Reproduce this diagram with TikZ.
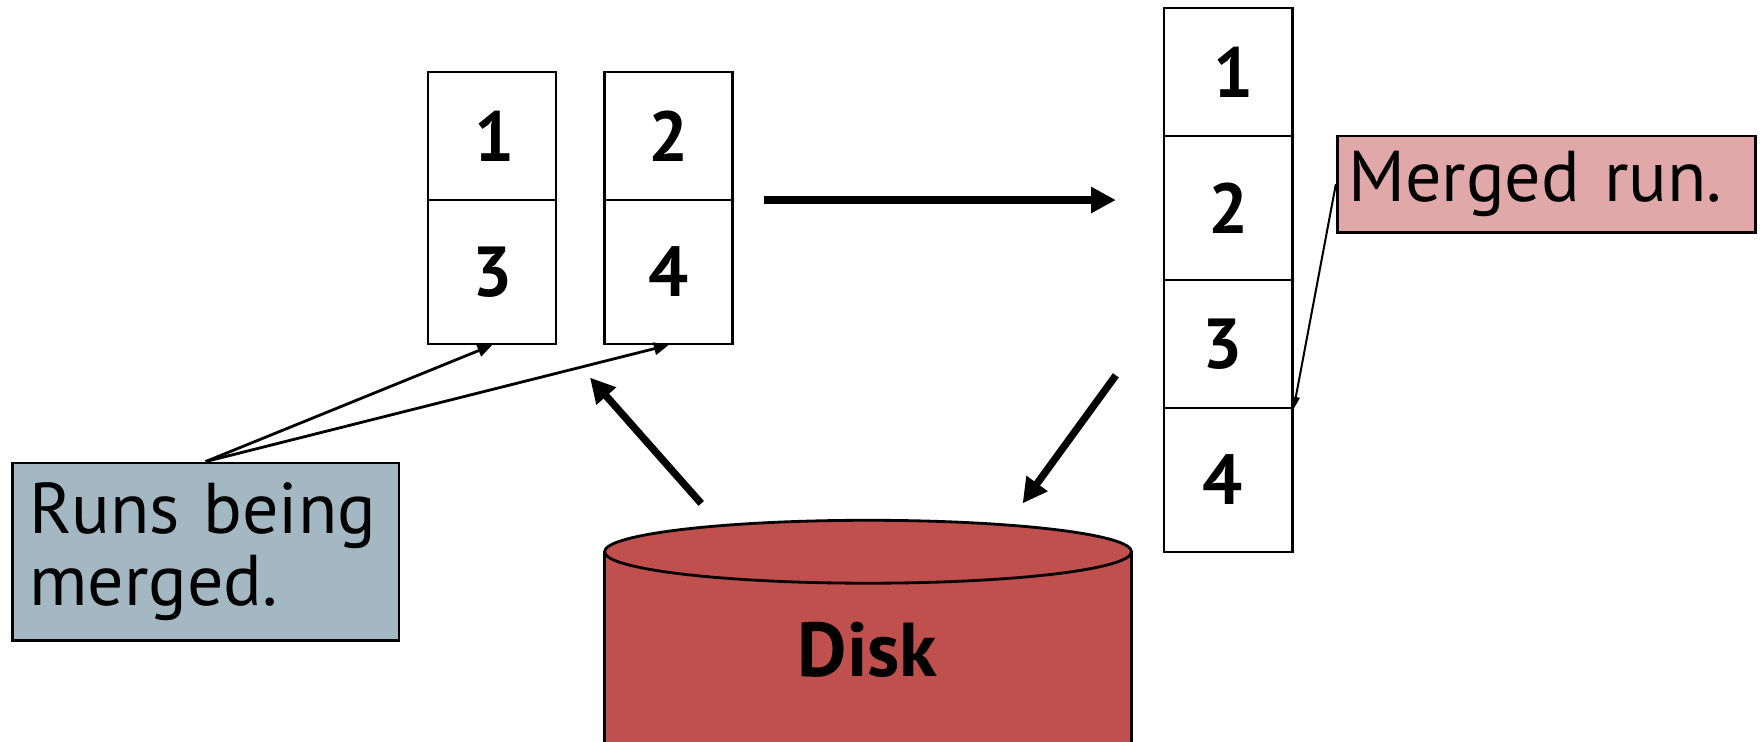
\documentclass[tikz,border=0pt]{standalone}
\usepackage{fontspec}
\setmainfont{PT Sans}
\usetikzlibrary{arrows.meta}
\definecolor{diskred}{HTML}{C0504D}
\definecolor{pinkbox}{HTML}{E0A8A8}
\definecolor{bluebox}{HTML}{A3B8C3}
\begin{document}
\begin{tikzpicture}[x=1pt,y=-1pt,
  cell/.style={draw,line width=2.2pt,minimum width=114pt,inner sep=0pt,font=\fontsize{63}{66}\selectfont\bfseries},
  tall/.style={cell,minimum height=128pt},
  short/.style={cell,minimum height=114pt},
  callout/.style={draw,line width=2.5pt,inner sep=0pt,align=left,font=\fontsize{64}{64}\selectfont},
  bigarrow/.style={line width=6.5pt,-{Triangle[length=22pt,width=22pt]}},
  thinarrow/.style={line width=2.5pt,-{Triangle[length=13pt,width=11pt]}},
  tinyarrow/.style={line width=1.8pt,-{Triangle[length=11pt,width=7pt]}}]
\useasboundingbox (0,0) rectangle (1568,660);
% runs being merged
\node[short] (a1) at (438,121) {\hspace{4pt}1};
\node[tall]  (a3) at (438,242) {3};
\node[short] (b2) at (595,121) {2};
\node[tall]  (b4) at (595,242) {4};
% merged run
\node[short] (m1) at (1093,64)  {\hspace{10pt}1};
\node[tall]  (m2) at (1093,185) {2};
\node[short] (m3) at (1093,306) {\hspace{-10pt}3};
\node[tall]  (m4) at (1093,427) {\hspace{-10pt}4};
% callouts
\node[callout,fill=bluebox,minimum width=344pt,minimum height=158pt,text width=314pt] (runs) at (183,491) {Runs being\\merged.};
\node[callout,fill=pinkbox,minimum width=372pt,minimum height=86pt,text width=352pt] (mrun) at (1376,164) {Merged run.};
% disk
\fill[diskred] (538,491) -- (538,665) -- (1007,665) -- (1007,491) -- cycle;
\draw[line width=2.2pt] (538,491) -- (538,665) (1007,491) -- (1007,665);
\draw[line width=2.5pt,fill=diskred] (772.5,491) ellipse [x radius=234.5pt,y radius=28pt];
\node[font=\fontsize{68}{70}\selectfont\bfseries] (disk) at (772,578) {Disk};
% connector coordinates
\coordinate (hs) at (680,178);
\coordinate (he) at (993,178);
\coordinate (ds) at (624,448);
\coordinate (de) at (525,336);
\coordinate (ms) at (993,334);
\coordinate (me) at (910,448);
% connectors
\draw[bigarrow] (hs) -- (he);
\draw[bigarrow] (ds) -- (de);
\draw[bigarrow] (ms) -- (me);
\draw[thinarrow] (runs.north) -- (a3.south);
\draw[thinarrow] (runs.north) -- (b4.south);
\draw[tinyarrow] (mrun.west) -- (m3.south east);
\end{tikzpicture}
\end{document}
